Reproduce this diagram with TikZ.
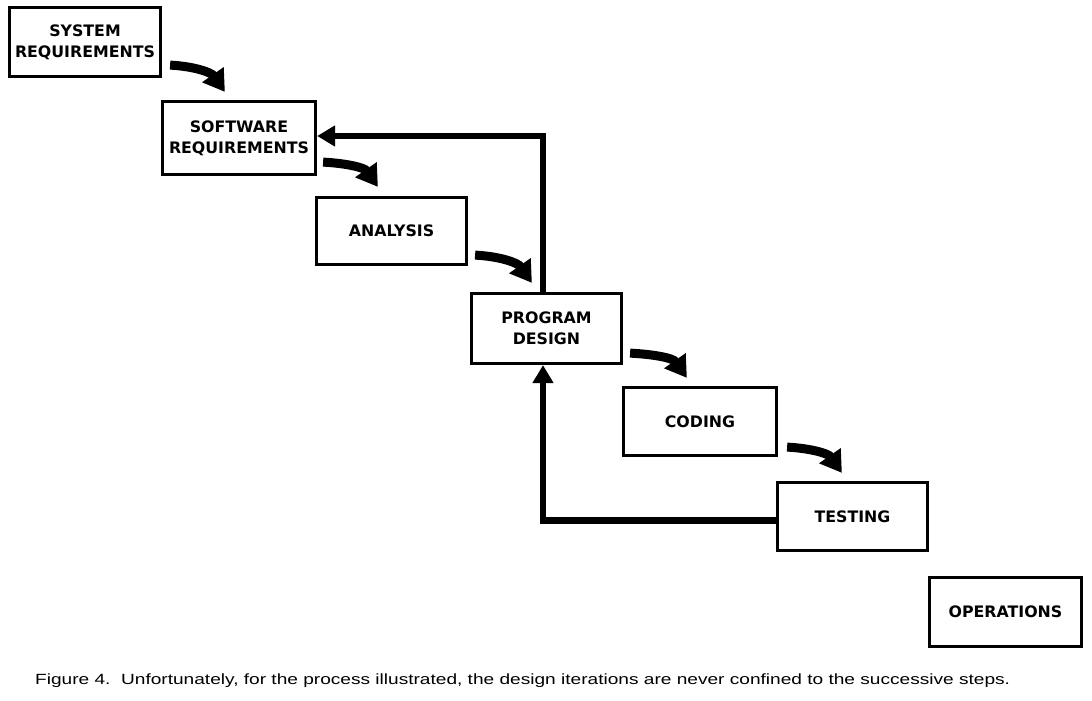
\documentclass[tikz,border=0pt]{standalone}
\usepackage{fontspec}
\setmainfont{Liberation Sans}
\newfontfamily\boxfont{DejaVu Sans}
\usetikzlibrary{arrows.meta}
\begin{document}
\begin{tikzpicture}[x=1pt,y=1pt,
  stepbox/.style={draw, line width=3.2pt, align=center, inner sep=2pt,
    font=\boxfont\bfseries\fontsize{15.8}{21}\selectfont},
  fallarrow/.style={line width=9pt, -{Triangle[length=21pt,width=25pt]}},
  backarrow/.style={line width=6.5pt, -{Triangle[length=18pt,width=20pt]}}]
\useasboundingbox (0,0) rectangle (1092,-701);
\fill[white] (0,0) rectangle (1092,-701);

\node[stepbox, minimum width=151pt, minimum height=69pt] (sys) at (85,-42) {SYSTEM\\REQUIREMENTS};
\node[stepbox, minimum width=153pt, minimum height=73pt] (swr) at (239,-138) {SOFTWARE\\REQUIREMENTS};
\node[stepbox, minimum width=150pt, minimum height=67pt] (ana) at (391.5,-231) {ANALYSIS};
\node[stepbox, minimum width=150pt, minimum height=70pt] (pd) at (546.5,-328.5) {PROGRAM\\DESIGN};
\node[stepbox, minimum width=153pt, minimum height=68pt] (cod) at (700,-421.5) {CODING};
\node[stepbox, minimum width=150pt, minimum height=68pt] (tst) at (852.5,-516.5) {TESTING};
\node[stepbox, minimum width=152pt, minimum height=69pt] (ops) at (1005.5,-612) {OPERATIONS};

\draw[fallarrow] ([xshift=8pt,yshift=13pt]sys.south east) to[out=-3,in=125] ([xshift=64pt,yshift=8pt]swr.north west);
\draw[fallarrow] ([xshift=6pt,yshift=14pt]swr.south east) to[out=-3,in=125] ([xshift=63pt,yshift=9pt]ana.north west);
\draw[fallarrow] ([xshift=7pt,yshift=11pt]ana.south east) to[out=-3,in=125] ([xshift=62pt,yshift=9pt]pd.north west);
\draw[fallarrow] ([xshift=7pt,yshift=12pt]pd.south east) to[out=-3,in=125] ([xshift=65pt,yshift=8pt]cod.north west);
\draw[fallarrow] ([xshift=9pt,yshift=10pt]cod.south east) to[out=-3,in=125] ([xshift=66pt,yshift=8pt]tst.north west);

\draw[backarrow] ([xshift=-3.5pt]pd.north) |- ([yshift=2pt]swr.east);
\draw[backarrow] ([yshift=-4pt]tst.west) -| ([xshift=-3.5pt]pd.south);

\node[anchor=base west, inner sep=0pt, font=\fontsize{14.8}{17}\selectfont] (cap) at (35,-684)
  {\scalebox{1.29}[1]{Figure 4.\ \ Unfortunately, for the process illustrated, the design iterations are never confined to the successive steps.}};
\end{tikzpicture}
\end{document}
